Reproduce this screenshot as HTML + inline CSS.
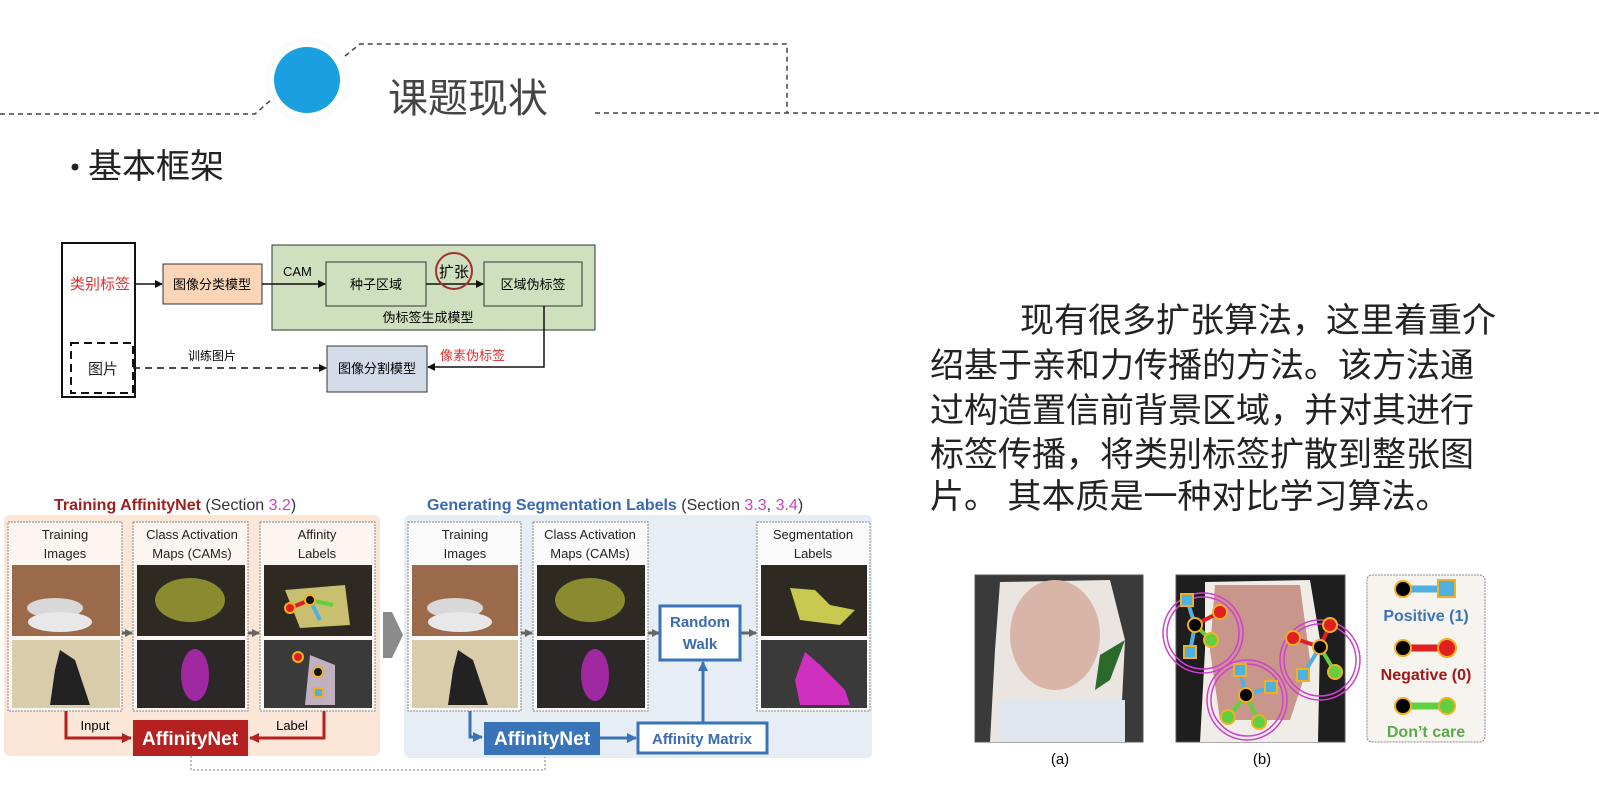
<!DOCTYPE html>
<html><head><meta charset="utf-8">
<style>
html,body{margin:0;padding:0;background:#fff;}
body{width:1599px;height:808px;overflow:hidden;position:relative;font-family:"Liberation Sans","Noto Sans CJK SC",sans-serif;}
svg{position:absolute;left:0;top:0;}
.t{font-family:"Liberation Sans","Noto Sans CJK SC",sans-serif;}
</style></head><body>
<svg width="1599" height="808" viewBox="0 0 1599 808" xmlns="http://www.w3.org/2000/svg">
<defs>
<marker id="ab" markerWidth="8" markerHeight="8" refX="7" refY="4" orient="auto" markerUnits="userSpaceOnUse"><path d="M0,0 L8,4 L0,8 z" fill="#111"/></marker>
<marker id="ar" markerWidth="10" markerHeight="10" refX="9" refY="5" orient="auto" markerUnits="userSpaceOnUse"><path d="M0,0 L10,5 L0,10 z" fill="#b22222"/></marker>
<marker id="abl" markerWidth="10" markerHeight="10" refX="9" refY="5" orient="auto" markerUnits="userSpaceOnUse"><path d="M0,0 L10,5 L0,10 z" fill="#3a74b8"/></marker>
<marker id="ag" markerWidth="8" markerHeight="8" refX="7" refY="4" orient="auto" markerUnits="userSpaceOnUse"><path d="M0,0 L8,4 L0,8 z" fill="#666"/></marker>
<radialGradient id="halo"><stop offset="0.8" stop-color="#fff"/><stop offset="1" stop-color="#eee" stop-opacity="0"/></radialGradient>
</defs>

<!-- header -->
<g stroke="#444" stroke-width="1.5" stroke-dasharray="5,4" fill="none">
<path d="M0,114 L255,114 L280,92"/>
<path d="M345,56 L360,44 L787,44 L787,113"/>
<path d="M595,113 L1599,113"/>
</g>
<circle cx="307" cy="80" r="44" fill="url(#halo)"/>
<circle cx="307" cy="80" r="38" fill="#fff"/>
<circle cx="307" cy="80" r="33" fill="#1a9fe0"/>
<text x="388" y="112" font-size="40" fill="#444" class="t">课题现状</text>
<circle cx="75" cy="167" r="3.5" fill="#222"/>
<text x="88" y="178" font-size="34" fill="#222" class="t">基本框架</text>

<!-- top flow diagram -->
<rect x="62" y="243" width="73" height="154" fill="#fff" stroke="#111" stroke-width="2"/>
<text x="70" y="289" font-size="15" fill="#e03030" class="t">类别标签</text>
<rect x="71" y="343" width="62" height="50" fill="none" stroke="#111" stroke-width="2" stroke-dasharray="8,5"/>
<text x="88" y="374" font-size="15" fill="#222" class="t">图片</text>
<line x1="135" y1="284" x2="162" y2="284" stroke="#111" stroke-width="1.5" marker-end="url(#ab)"/>
<rect x="163" y="264" width="99" height="40" fill="#fbd5b5" stroke="#333"/>
<text x="212" y="289" font-size="13" text-anchor="middle" class="t">图像分类模型</text>
<rect x="272" y="245" width="323" height="85" fill="#cfe0bf" stroke="#333"/>
<text x="283" y="276" font-size="13" class="t">CAM</text>
<line x1="262" y1="284" x2="325" y2="284" stroke="#111" stroke-width="1.5" marker-end="url(#ab)"/>
<rect x="326" y="262" width="100" height="44" fill="#cfe0bf" stroke="#333"/>
<text x="376" y="289" font-size="13" text-anchor="middle" class="t">种子区域</text>
<line x1="426" y1="284" x2="483" y2="284" stroke="#111" stroke-width="1.5" marker-end="url(#ab)"/>
<circle cx="454" cy="271" r="18" fill="none" stroke="#a03030" stroke-width="2"/>
<text x="454" y="277" font-size="15" text-anchor="middle" class="t">扩张</text>
<rect x="484" y="262" width="98" height="44" fill="#cfe0bf" stroke="#333"/>
<text x="533" y="289" font-size="13" text-anchor="middle" class="t">区域伪标签</text>
<text x="428" y="322" font-size="13" text-anchor="middle" class="t">伪标签生成模型</text>
<rect x="327" y="346" width="100" height="46" fill="#d3dbe8" stroke="#333"/>
<text x="377" y="373" font-size="13" text-anchor="middle" class="t">图像分割模型</text>
<path d="M544,306 L544,367 L428,367" fill="none" stroke="#111" stroke-width="1.5" marker-end="url(#ab)"/>
<text x="440" y="360" font-size="13" fill="#e03030" class="t">像素伪标签</text>
<line x1="133" y1="368" x2="326" y2="368" stroke="#111" stroke-width="1.5" stroke-dasharray="7,5" marker-end="url(#ab)"/>
<text x="188" y="360" font-size="12" class="t">训练图片</text>

<!-- right paragraph -->
<g font-size="34" fill="#222" class="t">
<text x="1020" y="332">现有很多扩张算法，这里着重介</text>
<text x="930" y="377">绍基于亲和力传播的方法。该方法通</text>
<text x="930" y="422">过构造置信前背景区域，并对其进行</text>
<text x="930" y="466">标签传播，将类别标签扩散到整张图</text>
<text x="930" y="508">片。 其本质是一种对比学习算法。</text>
</g>

<!-- bottom-left AffinityNet figure -->
<text x="54" y="510" font-size="16" class="t"><tspan fill="#a02020" font-weight="bold">Training AffinityNet</tspan><tspan fill="#333"> (Section </tspan><tspan fill="#d040c0">3.2</tspan><tspan fill="#333">)</tspan></text>
<text x="427" y="510" font-size="16" class="t"><tspan fill="#3a6ab0" font-weight="bold">Generating Segmentation Labels</tspan><tspan fill="#333"> (Section </tspan><tspan fill="#d040c0">3.3</tspan><tspan fill="#333">, </tspan><tspan fill="#d040c0">3.4</tspan><tspan fill="#333">)</tspan></text>
<rect x="4" y="515" width="376" height="241" rx="6" fill="#fbe6d8"/>
<rect x="404" y="515" width="468" height="243" rx="6" fill="#e6edf4"/>

<g font-size="13" fill="#222" text-anchor="middle" class="t">
<rect x="8" y="522" width="114" height="189" fill="#fdf6f0" stroke="#888" stroke-dasharray="2,1"/>
<text x="65" y="539">Training</text><text x="65" y="558">Images</text>
<rect x="133" y="522" width="115" height="189" fill="#fdf6f0" stroke="#888" stroke-dasharray="2,1"/>
<text x="192" y="539">Class Activation</text><text x="192" y="558">Maps (CAMs)</text>
<rect x="260" y="522" width="115" height="189" fill="#fdf6f0" stroke="#888" stroke-dasharray="2,1"/>
<text x="317" y="539">Affinity</text><text x="317" y="558">Labels</text>
<rect x="408" y="522" width="113" height="189" fill="#fbfbfb" stroke="#888" stroke-dasharray="2,1"/>
<text x="465" y="539">Training</text><text x="465" y="558">Images</text>
<rect x="533" y="522" width="115" height="189" fill="#fbfbfb" stroke="#888" stroke-dasharray="2,1"/>
<text x="590" y="539">Class Activation</text><text x="590" y="558">Maps (CAMs)</text>
<rect x="757" y="522" width="113" height="189" fill="#fbfbfb" stroke="#888" stroke-dasharray="2,1"/>
<text x="813" y="539">Segmentation</text><text x="813" y="558">Labels</text>
</g>
<g>
<rect x="12" y="565" width="108" height="71" fill="#9a6a4a"/>
<ellipse cx="55" cy="608" rx="28" ry="10" fill="#d8d8d8"/><ellipse cx="60" cy="622" rx="32" ry="10" fill="#e8e8e8"/>
<rect x="12" y="640" width="108" height="68" fill="#d8ccaa"/>
<path d="M60,650 L75,660 L90,705 L50,705 L55,670 Z" fill="#222"/>
<rect x="137" y="565" width="108" height="71" fill="#2e2a22"/><ellipse cx="190" cy="600" rx="35" ry="22" fill="#8a8a30"/>
<rect x="137" y="640" width="108" height="68" fill="#2c2828"/><ellipse cx="195" cy="675" rx="14" ry="26" fill="#a028a0"/>
<rect x="264" y="565" width="108" height="71" fill="#2e2a22"/><path d="M285,590 L345,585 L350,625 L300,628 Z" fill="#c8c070"/>
<line x1="290" y1="608" x2="310" y2="600" stroke="#e02020" stroke-width="4"/><line x1="310" y1="600" x2="333" y2="605" stroke="#60d040" stroke-width="4"/><line x1="310" y1="600" x2="320" y2="620" stroke="#50b0e0" stroke-width="4"/>
<circle cx="310" cy="600" r="5" fill="#111" stroke="#f0b020" stroke-width="2"/><circle cx="290" cy="608" r="5" fill="#e02020" stroke="#f0b020" stroke-width="2"/>
<rect x="264" y="640" width="108" height="68" fill="#3a3a3a"/><path d="M310,655 L335,665 L335,705 L305,705 Z" fill="#c0b0c0"/>
<circle cx="298" cy="657" r="5" fill="#e02020" stroke="#f0b020" stroke-width="2"/><circle cx="318" cy="672" r="5" fill="#111" stroke="#f0b020" stroke-width="2"/><rect x="314" y="688" width="9" height="9" fill="#50b0e0" stroke="#f0b020" stroke-width="2"/>
<rect x="412" y="565" width="106" height="71" fill="#9a6a4a"/>
<ellipse cx="455" cy="608" rx="28" ry="10" fill="#d8d8d8"/><ellipse cx="460" cy="622" rx="32" ry="10" fill="#e8e8e8"/>
<rect x="412" y="640" width="106" height="68" fill="#d8ccaa"/><path d="M458,650 L473,660 L488,705 L448,705 L453,670 Z" fill="#222"/>
<rect x="537" y="565" width="108" height="71" fill="#2e2a22"/><ellipse cx="590" cy="600" rx="35" ry="22" fill="#8a8a30"/>
<rect x="537" y="640" width="108" height="68" fill="#2c2828"/><ellipse cx="595" cy="675" rx="14" ry="26" fill="#a028a0"/>
<rect x="761" y="565" width="106" height="71" fill="#2e2a22"/><path d="M790,588 L815,590 L830,605 L855,610 L840,625 L800,620 Z" fill="#c8c850"/>
<rect x="761" y="640" width="106" height="68" fill="#3a3a3a"/><path d="M805,652 L820,665 L845,690 L850,705 L800,705 L795,680 Z" fill="#d030c0"/>
</g>
<g stroke="#666" stroke-width="3">
<line x1="122" y1="633" x2="132" y2="633" marker-end="url(#ag)"/>
<line x1="248" y1="633" x2="259" y2="633" marker-end="url(#ag)"/>
<line x1="521" y1="633" x2="532" y2="633" marker-end="url(#ag)"/>
<line x1="648" y1="633" x2="659" y2="633" marker-end="url(#ag)"/>
<line x1="740" y1="633" x2="756" y2="633" marker-end="url(#ag)"/>
</g>
<path d="M383,612 L392,612 L403,635 L392,658 L383,658 Z" fill="#8a8a8a"/>
<rect x="133" y="720" width="115" height="36" fill="#b52020"/>
<text x="190" y="745" font-size="19" font-weight="bold" fill="#fff" text-anchor="middle" class="t">AffinityNet</text>
<path d="M66,711 L66,738 L131,738" fill="none" stroke="#b52020" stroke-width="3" marker-end="url(#ar)"/>
<path d="M324,711 L324,738 L250,738" fill="none" stroke="#b52020" stroke-width="3" marker-end="url(#ar)"/>
<text x="95" y="730" font-size="13" text-anchor="middle" class="t">Input</text>
<text x="292" y="730" font-size="13" text-anchor="middle" class="t">Label</text>
<rect x="484" y="722" width="116" height="33" fill="#3a74b8"/>
<text x="542" y="745" font-size="19" font-weight="bold" fill="#fff" text-anchor="middle" class="t">AffinityNet</text>
<path d="M470,711 L470,737 L482,737" fill="none" stroke="#3a74b8" stroke-width="3" marker-end="url(#abl)"/>
<line x1="600" y1="738" x2="636" y2="738" stroke="#3a74b8" stroke-width="3" marker-end="url(#abl)"/>
<rect x="638" y="723" width="129" height="30" fill="#fff" stroke="#3a74b8" stroke-width="3"/>
<text x="702" y="744" font-size="15" font-weight="bold" fill="#3a6ab0" text-anchor="middle" class="t">Affinity Matrix</text>
<line x1="703" y1="722" x2="703" y2="662" stroke="#3a74b8" stroke-width="3" marker-end="url(#abl)"/>
<rect x="660" y="606" width="80" height="54" fill="#fff" stroke="#3a74b8" stroke-width="3"/>
<text x="700" y="627" font-size="15" font-weight="bold" fill="#3a6ab0" text-anchor="middle" class="t">Random</text>
<text x="700" y="649" font-size="15" font-weight="bold" fill="#3a6ab0" text-anchor="middle" class="t">Walk</text>
<path d="M191,756 L191,770 L545,770 L545,757" fill="none" stroke="#777" stroke-width="1" stroke-dasharray="2,2"/>

<!-- face figure -->
<rect x="975" y="575" width="168" height="167" fill="#3a3a3a" stroke="#555"/>
<path d="M1000,582 L1110,580 L1125,640 L1120,742 L990,742 L995,650 Z" fill="#eae5e0"/>
<ellipse cx="1055" cy="635" rx="45" ry="55" fill="#d9b5a8"/>
<path d="M1000,700 L1125,700 L1125,742 L1000,742 Z" fill="#dfe6ee"/>
<path d="M1100,655 L1125,640 L1110,680 L1095,690 Z" fill="#2a6a2a"/>
<text x="1060" y="764" font-size="15" text-anchor="middle" class="t">(a)</text>

<rect x="1176" y="575" width="169" height="167" fill="#1e1e1e" stroke="#555"/>
<path d="M1205,582 L1310,580 L1320,640 L1318,742 L1200,742 L1205,650 Z" fill="#f0ede8"/>
<path d="M1215,585 L1300,585 L1310,660 L1290,720 L1220,720 L1210,650 Z" fill="#c8968a"/>
<g fill="none" stroke="#d040d0" stroke-width="1.5">
<circle cx="1203" cy="633" r="36"/><circle cx="1203" cy="633" r="40"/>
<circle cx="1247" cy="700" r="36"/><circle cx="1247" cy="700" r="40"/>
<circle cx="1320" cy="660" r="36"/><circle cx="1320" cy="660" r="40"/>
</g>
<g stroke-width="4">
<line x1="1195" y1="625" x2="1187" y2="600" stroke="#50b0e0"/><line x1="1195" y1="625" x2="1220" y2="612" stroke="#e02020"/><line x1="1195" y1="625" x2="1211" y2="640" stroke="#60d040"/><line x1="1195" y1="625" x2="1190" y2="652" stroke="#50b0e0"/>
<line x1="1246" y1="695" x2="1240" y2="670" stroke="#50b0e0"/><line x1="1246" y1="695" x2="1271" y2="687" stroke="#50b0e0"/><line x1="1246" y1="695" x2="1228" y2="717" stroke="#60d040"/><line x1="1246" y1="695" x2="1259" y2="722" stroke="#60d040"/>
<line x1="1320" y1="647" x2="1293" y2="638" stroke="#e02020"/><line x1="1320" y1="647" x2="1330" y2="625" stroke="#e02020"/><line x1="1320" y1="647" x2="1303" y2="675" stroke="#50b0e0"/><line x1="1320" y1="647" x2="1335" y2="672" stroke="#60d040"/>
</g>
<g stroke="#f0b020" stroke-width="2">
<circle cx="1195" cy="625" r="7" fill="#000"/><circle cx="1246" cy="695" r="7" fill="#000"/><circle cx="1320" cy="647" r="7" fill="#000"/>
<rect x="1181" y="594" width="12" height="12" fill="#50b0e0"/><rect x="1184" y="646" width="12" height="12" fill="#50b0e0"/>
<rect x="1234" y="664" width="12" height="12" fill="#50b0e0"/><rect x="1265" y="681" width="12" height="12" fill="#50b0e0"/><rect x="1297" y="669" width="12" height="12" fill="#50b0e0"/>
<circle cx="1220" cy="612" r="7" fill="#e02020"/><circle cx="1293" cy="638" r="7" fill="#e02020"/><circle cx="1330" cy="625" r="7" fill="#e02020"/>
<circle cx="1211" cy="640" r="7" fill="#60d040"/><circle cx="1228" cy="717" r="7" fill="#60d040"/><circle cx="1259" cy="722" r="7" fill="#60d040"/><circle cx="1335" cy="672" r="7" fill="#60d040"/>
</g>
<text x="1262" y="764" font-size="15" text-anchor="middle" class="t">(b)</text>

<rect x="1367" y="575" width="118" height="167" rx="5" fill="#f7f3ee" stroke="#888" stroke-dasharray="2,1"/>
<g stroke-width="7">
<line x1="1403" y1="589" x2="1445" y2="589" stroke="#50b0e0"/>
<line x1="1403" y1="648" x2="1445" y2="648" stroke="#e02020"/>
<line x1="1403" y1="706" x2="1445" y2="706" stroke="#60d040"/>
</g>
<g stroke="#f0b020" stroke-width="2">
<circle cx="1403" cy="589" r="8" fill="#000"/><rect x="1438" y="580" width="17" height="17" fill="#50b0e0"/>
<circle cx="1403" cy="648" r="8" fill="#000"/><circle cx="1447" cy="648" r="9" fill="#e02020"/>
<circle cx="1403" cy="706" r="8" fill="#000"/><circle cx="1447" cy="706" r="8" fill="#60d040"/>
</g>
<text x="1426" y="621" font-size="16" font-weight="bold" fill="#3a74b8" text-anchor="middle" class="t">Positive (1)</text>
<text x="1426" y="680" font-size="16" font-weight="bold" fill="#a01818" text-anchor="middle" class="t">Negative (0)</text>
<text x="1426" y="737" font-size="16" font-weight="bold" fill="#5aaa4a" text-anchor="middle" class="t">Don’t care</text>
</svg>
</body></html>
